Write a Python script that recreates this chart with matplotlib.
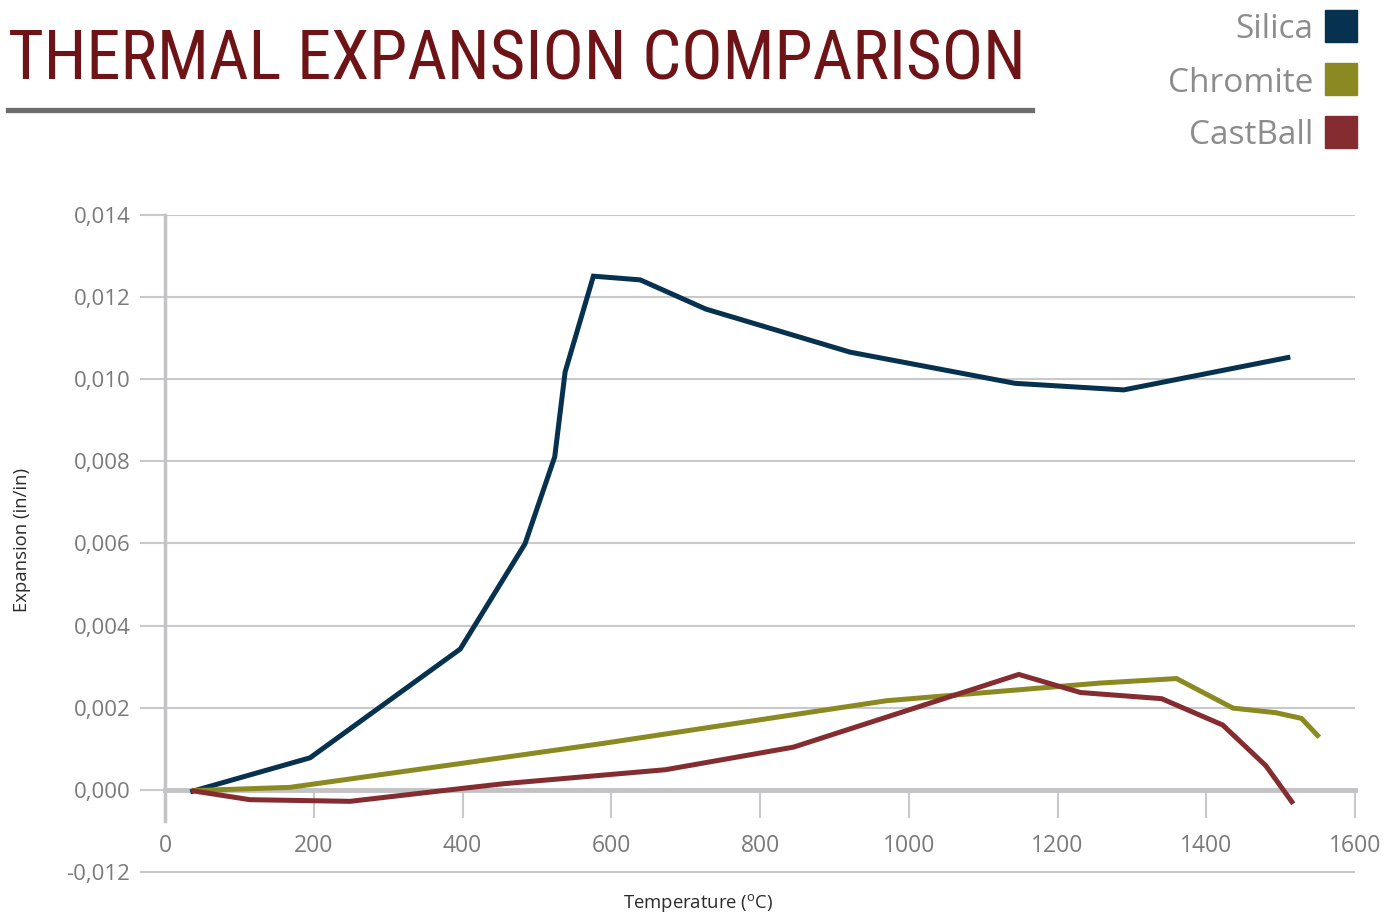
import matplotlib
matplotlib.use('Agg')
import matplotlib.pyplot as plt
from matplotlib import font_manager
from matplotlib.patches import Rectangle
from matplotlib.lines import Line2D

# data
silica_t = [34, 195, 397, 484, 524, 538, 576, 639, 727, 921, 1143, 1289, 1513]
silica_e = [-0.00005, 0.00078, 0.00343, 0.00599, 0.00811, 0.01018, 0.01251, 0.01242,
            0.01171, 0.01066, 0.00990, 0.00974, 0.01054]
chromite_t = [36, 168, 456, 585, 970, 1257, 1360, 1436, 1493, 1528, 1552]
chromite_e = [-0.00002, 0.00006, 0.00079, 0.00112, 0.00217, 0.00260, 0.00271, 0.00199,
              0.00188, 0.00174, 0.00128]
castball_t = [36, 114, 249, 402, 456, 673, 845, 1148, 1231, 1340, 1422, 1480, 1517]
castball_e = [-0.00002, -0.00024, -0.00028, 0.00004, 0.00015, 0.00049, 0.00104, 0.00281,
              0.00237, 0.00222, 0.00158, 0.00059, -0.00034]

series_names = ['Silica', 'Chromite', 'CastBall']
series_colors = ['#06314f', '#8b8a22', '#842c2f']

x_ticks = [0, 200, 400, 600, 800, 1000, 1200, 1400, 1600]
y_ticks = [-0.002, 0.0, 0.002, 0.004, 0.006, 0.008, 0.010, 0.012, 0.014]
y_tick_labels = ['-0,012', '0,000', '0,002', '0,004', '0,006', '0,008', '0,010', '0,012', '0,014']

installed = {f.name for f in font_manager.fontManager.ttflist}
base_font = 'Open Sans' if 'Open Sans' in installed else 'DejaVu Sans'
narrow_font = None
for cand in ['Liberation Sans Narrow', 'DejaVu Sans Condensed', 'Roboto Condensed']:
    if cand in installed:
        narrow_font = cand
        break

plt.rcParams['font.family'] = [base_font, 'DejaVu Sans']
plt.rcParams['mathtext.fontset'] = 'custom'
plt.rcParams['mathtext.rm'] = base_font

fig = plt.figure(figsize=(13.96, 9.14), dpi=100)
ax = fig.add_axes([165 / 1396, 1 - 874 / 914, 1190 / 1396, 659 / 914])

grid_col = '#c9c9cc'
for t, e, name, col in zip([silica_t, chromite_t, castball_t],
                           [silica_e, chromite_e, castball_e],
                           series_names, series_colors):
    ax.plot(t, e, color=col, lw=3.6, solid_capstyle='butt', solid_joinstyle='miter',
            zorder=3, label=name)

ax.set_xlim(0, 1600)
ax.set_ylim(-0.00205, 0.014)
ax.set_xticks(x_ticks)
ax.set_xticklabels([str(v) for v in x_ticks])
ax.set_yticks(y_ticks)
ax.set_yticklabels(y_tick_labels)

ax.grid(axis='y', color=grid_col, lw=1.5)
ax.set_axisbelow(True)

for s in ['top', 'right']:
    ax.spines[s].set_visible(False)
ax.spines['bottom'].set_position(('data', 0))
ax.spines['bottom'].set_color('#c3c3c6')
ax.spines['bottom'].set_linewidth(3.5)
ax.spines['left'].set_color('#c3c3c6')
ax.spines['left'].set_linewidth(2.5)
ax.spines['left'].set_bounds(-0.00076, 0.014)

ax.tick_params(axis='y', length=18, width=1.5, color=grid_col, pad=7,
               labelsize=16, labelcolor='#7a7a7a')
ax.tick_params(axis='x', length=20, width=1.5, color=grid_col, pad=12,
               labelsize=16.5, labelcolor='#7a7a7a')

fig.text(22 / 1396, 1 - 540 / 914, 'Expansion (in/in)', rotation=90, ha='center',
         va='center', fontsize=13.3, color='#2b2b2b')
fig.text(698 / 1396, 1 - 903 / 914, r'Temperature ($^{\mathrm{o}}$C)', ha='center',
         va='center', fontsize=13.3, color='#2b2b2b')

# title and rule
if narrow_font:
    fig.text(8 / 1396, 1 - 61 / 914, 'THERMAL EXPANSION COMPARISON', ha='left', va='center',
             fontsize=49.5, color='#6e1417', family=narrow_font)
else:
    fig.text(8 / 1396, 1 - 61 / 914, 'THERMAL EXPANSION COMPARISON', ha='left', va='center',
             fontsize=40, color='#6e1417')
fig.add_artist(Line2D([8 / 1396, 1032 / 1396], [1 - 110 / 914, 1 - 110 / 914],
                      color='#6d6d6d', lw=3.8, transform=fig.transFigure))

# legend: label then colour square
for i, (name, col) in enumerate(zip(series_names, series_colors)):
    yc = 26 + 53 * i
    fig.text(1313 / 1396, 1 - (yc + 4) / 914, name, ha='right', va='center', fontsize=24,
             color='#8c8c8c')
    fig.add_artist(Rectangle((1325 / 1396, 1 - (yc + 16) / 914), 32 / 1396, 32 / 914,
                             color=col, transform=fig.transFigure))

fig.savefig('out.png', dpi=100)
plt.close(fig)
